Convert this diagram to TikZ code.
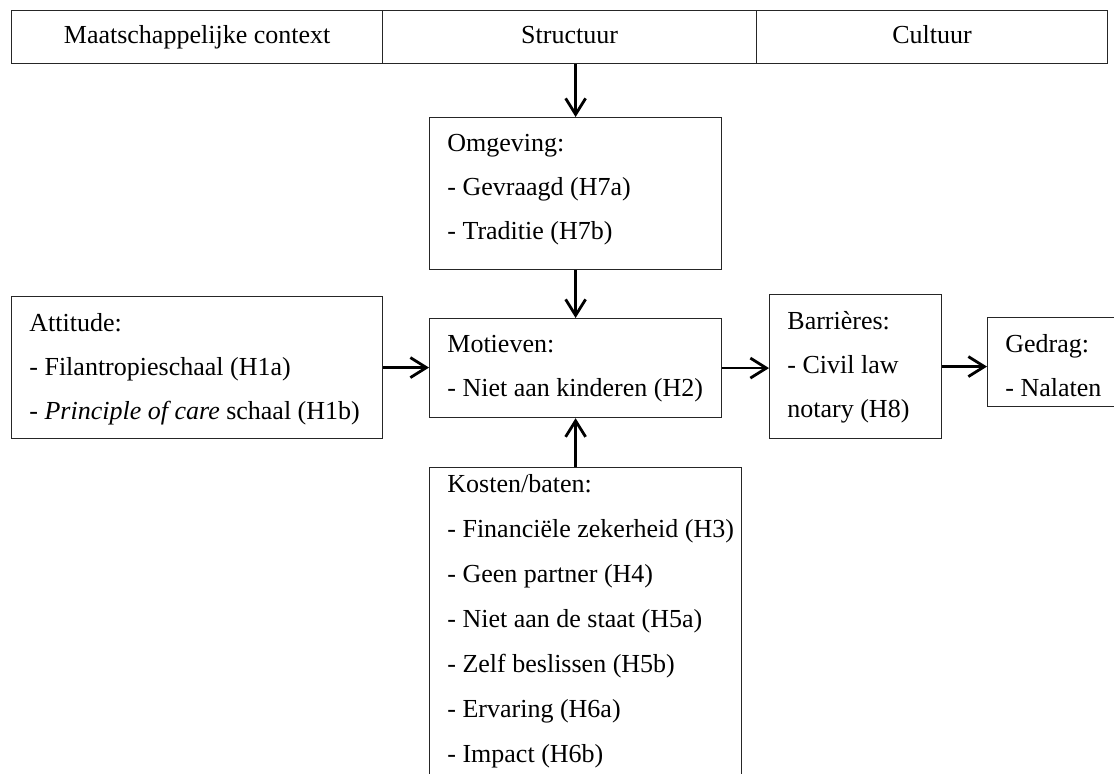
\documentclass[tikz,border=0pt]{standalone}
\usepackage{fontspec}
\setmainfont{Liberation Serif}
\usetikzlibrary{arrows.meta}

\tikzset{
	kop/.style={draw=black!85, line width=0.6pt, anchor=north west, inner sep=0pt, minimum height=26.5pt, text height=9pt, text depth=3pt, font=\fontsize{13}{16}\selectfont},
	blok/.style={draw=black!85, line width=0.6pt, anchor=north west, inner sep=0pt},
	tekst/.style={anchor=north west, inner sep=0pt, align=left, font=\fontsize{13}{22}\selectfont},
	pijl/.style={->, >={Straight Barb[length=8pt,width=10pt]}, line width=1.4pt},
}

\begin{document}
\begin{tikzpicture}[x=0.5pt, y=-0.5pt]
		\useasboundingbox (0,0) rectangle (1114,774);
		\clip (0,0) rectangle (1114,774);
		% Context bar
		\node[kop, minimum width=185.5pt] (context) at (11,10) {Maatschappelijke context};
		\node[kop, minimum width=187pt] (structuur) at (382,10) {Structuur};
		\node[kop, minimum width=175.5pt] (cultuur) at (756,10) {Cultuur};
		% Boxes
		\node[blok, minimum width=146pt, minimum height=76pt] (omgeving) at (429,117) {};
		\node[blok, minimum width=185.5pt, minimum height=71pt] (attitude) at (11,296) {};
		\node[blok, minimum width=146pt, minimum height=49.5pt] (motieven) at (429,318) {};
		\node[blok, minimum width=86pt, minimum height=72pt] (barrieres) at (769,294) {};
		\node[blok, minimum width=80pt, minimum height=44.5pt] (gedrag) at (987,317) {};
		\node[blok, minimum width=156pt, minimum height=200pt] (kosten) at (429,467) {};
		% Texts
		\node[tekst] (omgeving-txt) at ([shift={(9pt,-8.5pt)}]omgeving.north west)
			{Omgeving:\\- Gevraagd (H7a)\\- Traditie (H7b)};
		\node[tekst] (attitude-txt) at ([shift={(9pt,-8.5pt)}]attitude.north west)
			{Attitude:\\- Filantropieschaal (H1a)\\- \textit{Principle of care} schaal (H1b)};
		\node[tekst] (motieven-txt) at ([shift={(9pt,-8.5pt)}]motieven.north west)
			{Motieven:\\- Niet aan kinderen (H2)};
		\node[tekst] (barrieres-txt) at ([shift={(9pt,-8.5pt)}]barrieres.north west)
			{Barrières:\\- Civil law\\notary (H8)};
		\node[tekst] (gedrag-txt) at ([shift={(9pt,-8.5pt)}]gedrag.north west)
			{Gedrag:\\- Nalaten};
		\node[tekst, font=\fontsize{13}{22.5}\selectfont] (kosten-txt) at ([shift={(9pt,-3.5pt)}]kosten.north west)
			{Kosten/baten:\\- Financiële zekerheid (H3)\\- Geen partner (H4)\\- Niet aan de staat (H5a)\\- Zelf beslissen (H5b)\\- Ervaring (H6a)\\- Impact (H6b)};
		% Arrows
		\draw[pijl] (structuur.south -| omgeving.north) -- (omgeving.north);
		\draw[pijl] (omgeving.south) -- (motieven.north);
		\draw[pijl] (kosten.north -| motieven.south) -- (motieven.south);
		\draw[pijl] (attitude.east) -- (attitude.east -| motieven.west);
		\draw[pijl] (motieven.east) -- (motieven.east -| barrieres.west);
		\draw[pijl] (barrieres.east) -- (barrieres.east -| gedrag.west);
	\end{tikzpicture}
\end{document}
